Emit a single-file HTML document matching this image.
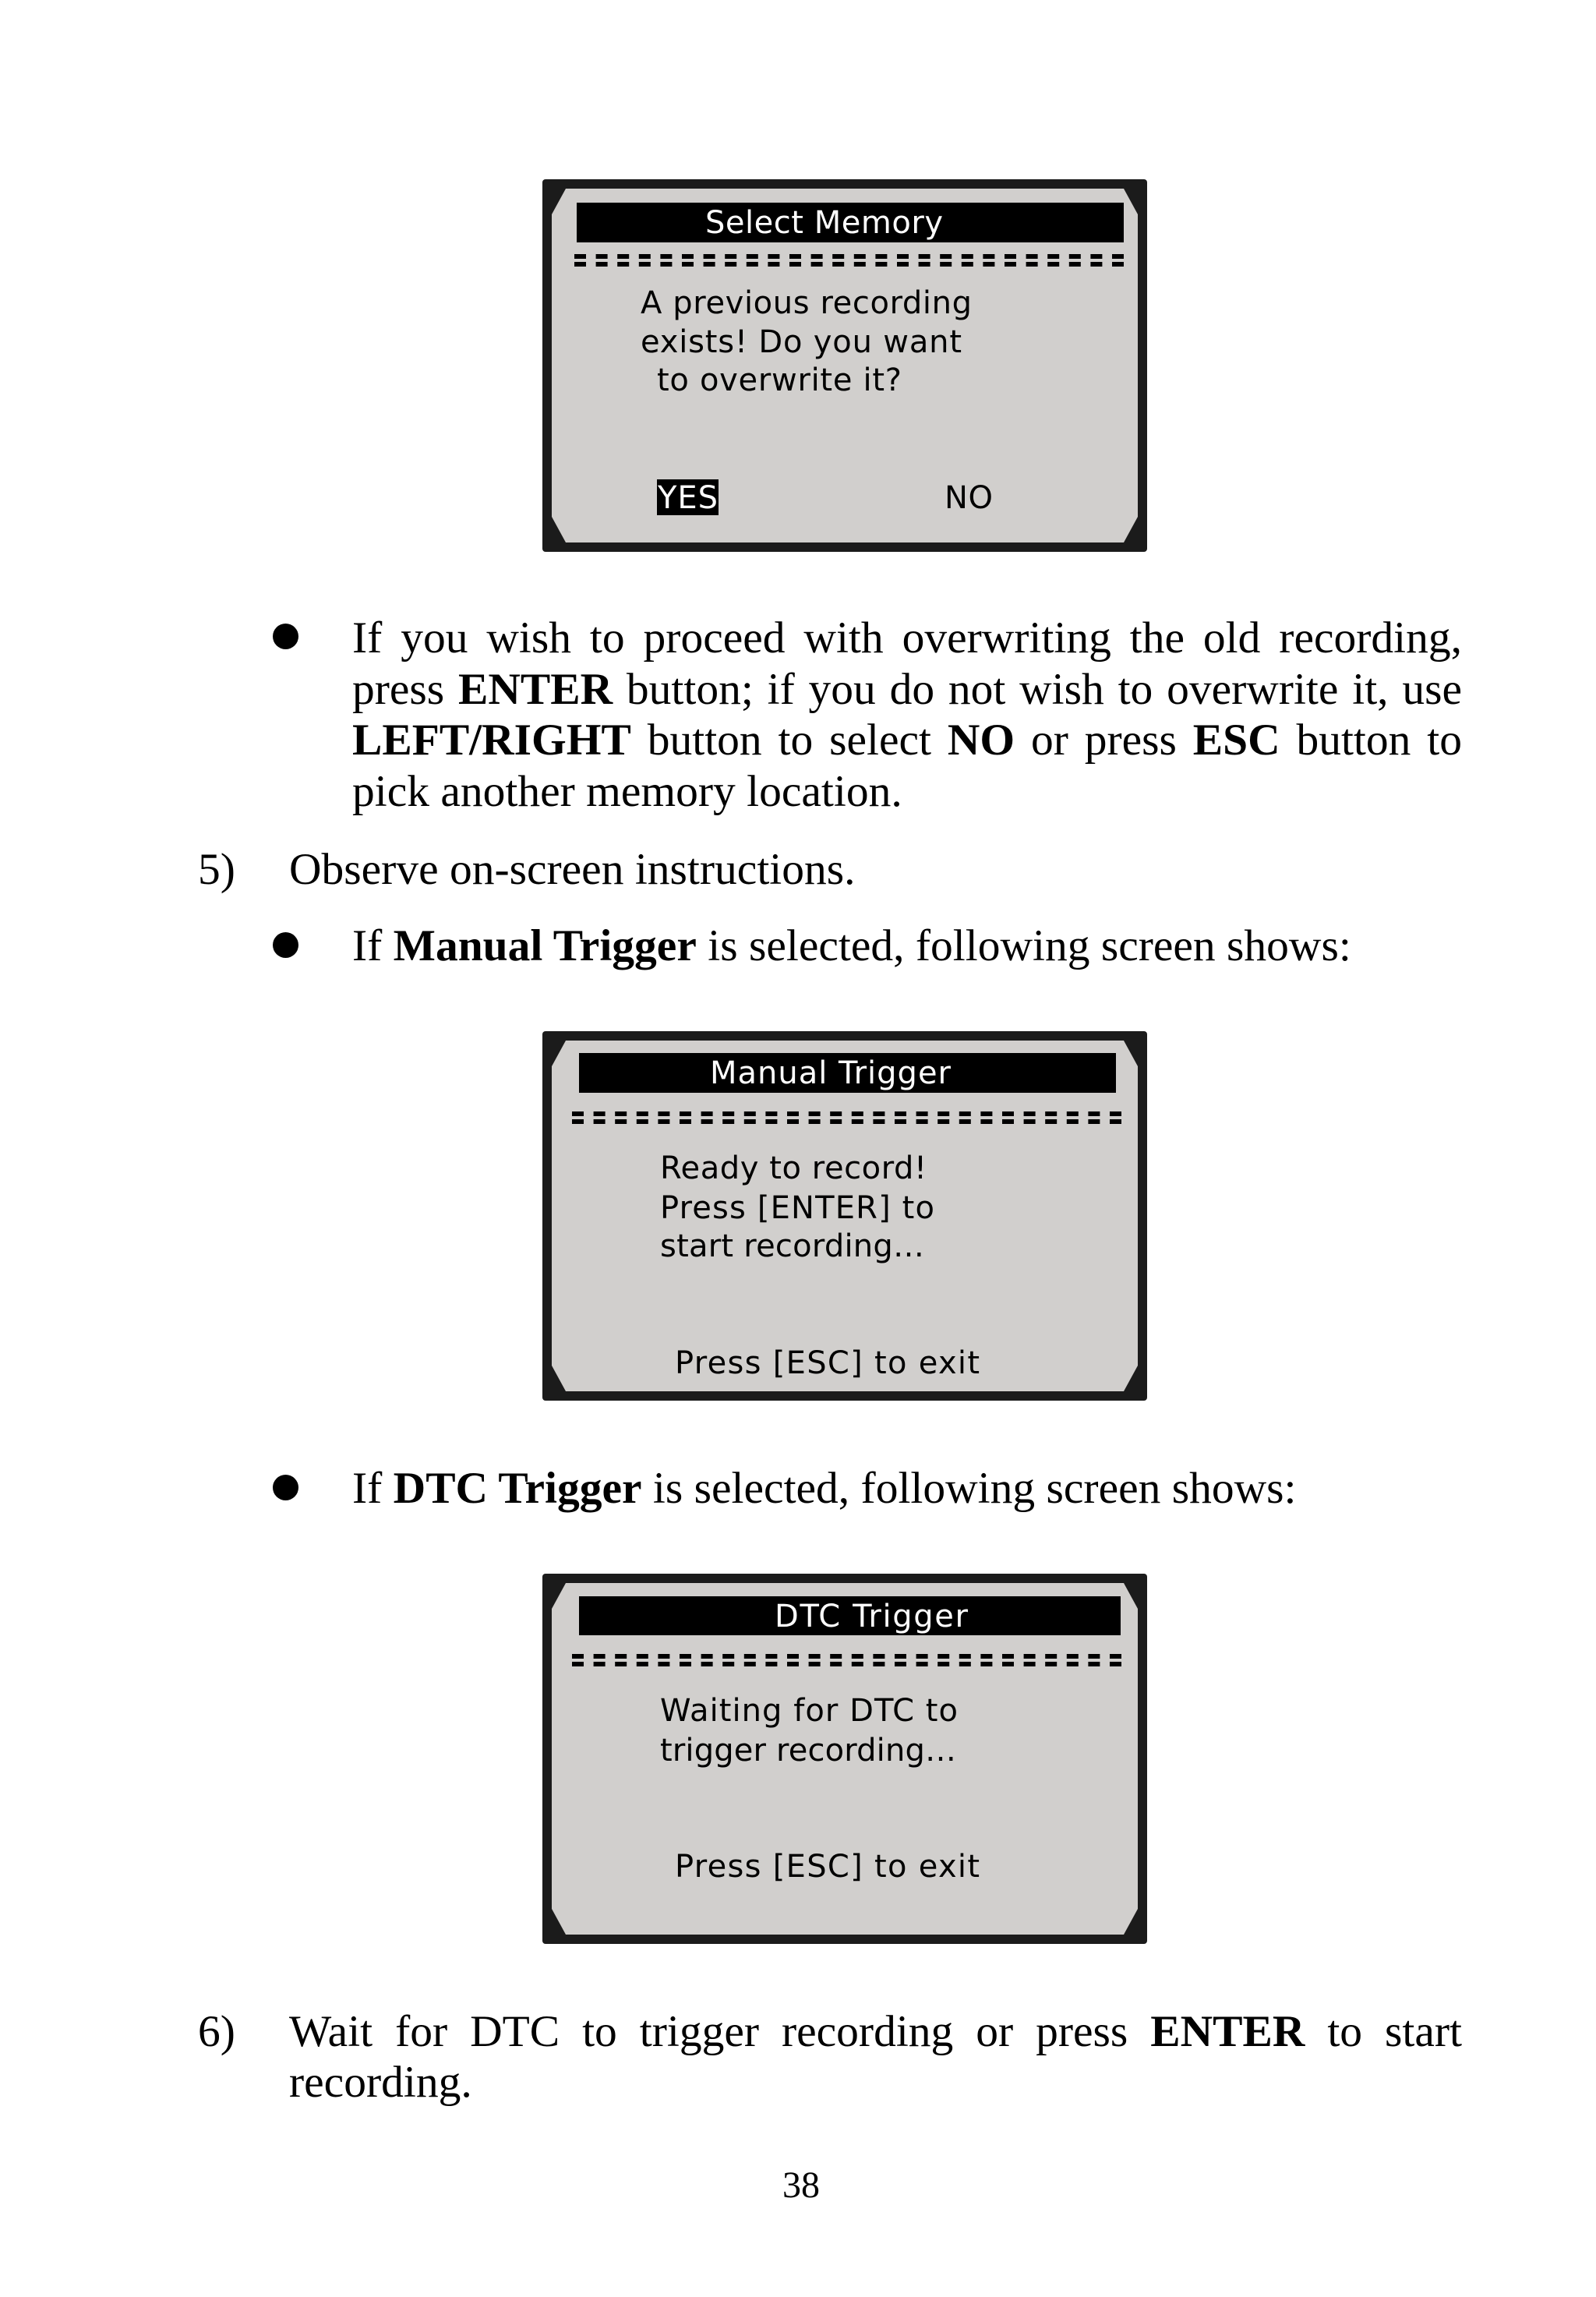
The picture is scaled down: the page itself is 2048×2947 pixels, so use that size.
<!DOCTYPE html>
<html><head><meta charset="utf-8"><style>
html,body{margin:0;padding:0;background:#fff;}
body{width:2048px;height:2947px;position:relative;overflow:hidden;font-family:"Liberation Serif",serif;color:#000;}
.l{position:absolute;font-size:57.5px;line-height:66px;white-space:nowrap;}
.j{text-align:justify;text-align-last:justify;white-space:normal;}
.bul{position:absolute;width:33px;height:33px;border-radius:50%;background:#000;}
svg{position:absolute;left:696px;}
svg text{font-family:"DejaVu Sans",sans-serif;font-size:40px;}
</style></head><body>

<svg width="776" height="478" style="top:230px" viewBox="0 0 776 478">
<rect x="0" y="0" width="776" height="478" rx="4" fill="#1b1b1b"/>
<polygon points="30,12 746,12 764,45 764,433 746,466 30,466 12,433 12,45" fill="#d1cfcd"/>
<rect x="44" y="30" width="702" height="51" fill="#000"/>
<text x="209" y="69" fill="#fff" textLength="305">Select Memory</text>
<line x1="41" y1="99" x2="750" y2="99" stroke="#000" stroke-width="6" stroke-dasharray="15 12.6"/>
<line x1="41" y1="109" x2="750" y2="109" stroke="#000" stroke-width="6" stroke-dasharray="15 12.6"/>
<text x="126" y="172" textLength="425">A previous recording</text>
<text x="126" y="222" textLength="412">exists! Do you want</text>
<text x="147" y="271" textLength="314">to overwrite it?</text>
<rect x="147" y="385" width="79" height="46" fill="#000"/>
<text x="148" y="422" fill="#fff" textLength="77">YES</text>
<text x="516" y="422" textLength="62">NO</text>
</svg>

<div class="bul" style="left:350px;top:800px"></div>
<div class="l j" style="left:452px;top:786px;width:1424px">If you wish to proceed with overwriting the old recording,</div>
<div class="l j" style="left:452px;top:852px;width:1424px">press <b>ENTER</b> button; if you do not wish to overwrite it, use</div>
<div class="l j" style="left:452px;top:917px;width:1424px"><b>LEFT/RIGHT</b> button to select <b>NO</b> or press <b>ESC</b> button to</div>
<div class="l" style="left:452px;top:983px">pick another memory location.</div>
<div class="l" style="left:254px;top:1083px">5)</div>
<div class="l" style="left:371px;top:1083px">Observe on-screen instructions.</div>
<div class="bul" style="left:350px;top:1196px"></div>
<div class="l" style="left:452px;top:1181px">If <b>Manual Trigger</b> is selected, following screen shows:</div>

<svg width="776" height="474" style="top:1323px" viewBox="0 0 776 474">
<rect x="0" y="0" width="776" height="474" rx="4" fill="#1b1b1b"/>
<polygon points="30,12 746,12 764,45 764,429 746,462 30,462 12,429 12,45" fill="#d1cfcd"/>
<rect x="47" y="28" width="689" height="51" fill="#000"/>
<text x="215" y="67" fill="#fff" textLength="309">Manual Trigger</text>
<line x1="38" y1="106" x2="750" y2="106" stroke="#000" stroke-width="6" stroke-dasharray="15 12.6"/>
<line x1="38" y1="116" x2="750" y2="116" stroke="#000" stroke-width="6" stroke-dasharray="15 12.6"/>
<text x="151" y="189" textLength="342">Ready to record!</text>
<text x="151" y="240" textLength="352">Press [ENTER] to</text>
<text x="151" y="289" textLength="339">start recording…</text>
<text x="170" y="439" textLength="391">Press [ESC] to exit</text>
</svg>

<div class="bul" style="left:350px;top:1892px"></div>
<div class="l" style="left:452px;top:1877px">If <b>DTC Trigger</b> is selected, following screen shows:</div>

<svg width="776" height="475" style="top:2019px" viewBox="0 0 776 475">
<rect x="0" y="0" width="776" height="475" rx="4" fill="#1b1b1b"/>
<polygon points="30,12 746,12 764,45 764,430 746,463 30,463 12,430 12,45" fill="#d1cfcd"/>
<rect x="47" y="29" width="695" height="50" fill="#000"/>
<text x="298" y="68" fill="#fff" textLength="248">DTC Trigger</text>
<line x1="38" y1="106" x2="750" y2="106" stroke="#000" stroke-width="6" stroke-dasharray="15 12.6"/>
<line x1="38" y1="116" x2="750" y2="116" stroke="#000" stroke-width="6" stroke-dasharray="15 12.6"/>
<text x="151" y="189" textLength="382">Waiting for DTC to</text>
<text x="151" y="240" textLength="380">trigger recording…</text>
<text x="170" y="389" textLength="391">Press [ESC] to exit</text>
</svg>

<div class="l" style="left:254px;top:2574px">6)</div>
<div class="l j" style="left:371px;top:2574px;width:1505px">Wait for DTC to trigger recording or press <b>ENTER</b> to start</div>
<div class="l" style="left:371px;top:2639px">recording.</div>
<div class="l" style="left:1004px;top:2771px;font-size:48px">38</div>
</body></html>
